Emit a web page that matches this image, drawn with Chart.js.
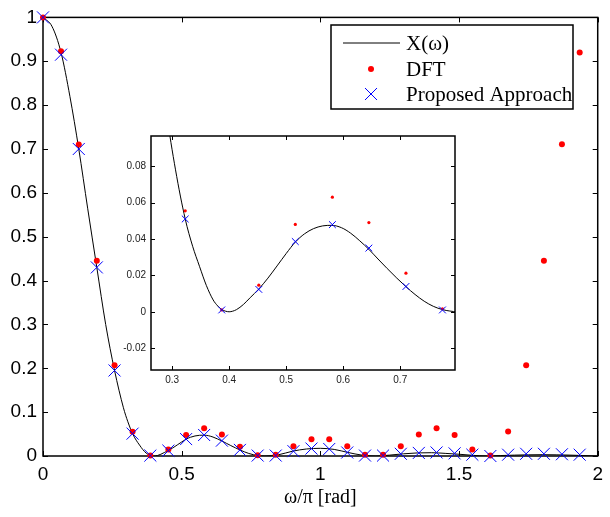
<!DOCTYPE html>
<html>
<head>
<meta charset="utf-8">
<script src="https://cdn.jsdelivr.net/npm/chart.js@4.4.1/dist/chart.umd.min.js"></script>
<style>
  body { margin: 0; background: #fff; }
  #wrap { position: relative; width: 610px; height: 517px; }
  #main { position: absolute; left: 0; top: 0; }
  #inset { position: absolute; left: 100px; top: 125px; }
</style>
</head>
<body>
<div id="wrap">
  <canvas id="main" width="610" height="517"></canvas>
  <canvas id="inset" width="365" height="270"></canvas>
</div>
<script>
// sample frequencies (omega/pi)
const sampleX = [0, 0.065, 0.129, 0.194, 0.258, 0.323, 0.387, 0.452, 0.516, 0.581, 0.645,
  0.710, 0.774, 0.839, 0.903, 0.968, 1.032, 1.097, 1.161, 1.226, 1.290, 1.355, 1.419,
  1.484, 1.548, 1.613, 1.677, 1.742, 1.806, 1.871, 1.935];
const dftY = [1.0, 0.923, 0.71, 0.445, 0.207, 0.0555, 0.001, 0.0146, 0.048, 0.063, 0.049,
  0.0212, 0.0016, 0.003, 0.022, 0.038, 0.038, 0.022, 0.003, 0.003, 0.022, 0.049, 0.063,
  0.048, 0.015, 0.001, 0.056, 0.207, 0.445, 0.711, 0.920];
const proposedY = [1.0, 0.915, 0.70, 0.43, 0.195, 0.051, 0.001, 0.0123, 0.0386, 0.0479, 0.035,
  0.0139, 0.001, 0.001, 0.011, 0.017, 0.016, 0.008, 0.001, 0.001, 0.005, 0.007, 0.008,
  0.006, 0.003, 0.0, 0.003, 0.005, 0.005, 0.004, 0.003];
// continuous spectrum X(omega)
const curveX = [0, 0.032, 0.065, 0.097, 0.129, 0.161, 0.194, 0.226, 0.258, 0.29, 0.306, 0.323,
  0.336, 0.348, 0.36, 0.372, 0.38, 0.387, 0.394, 0.40, 0.406, 0.413, 0.425, 0.437, 0.452,
  0.468, 0.484, 0.50, 0.516, 0.532, 0.548, 0.564, 0.58, 0.597, 0.613, 0.629, 0.645, 0.661,
  0.677, 0.694, 0.71, 0.726, 0.742, 0.758, 0.774, 0.787, 0.80, 0.85, 0.90, 0.95, 1.0, 1.05,
  1.10, 1.15, 1.20, 1.25, 1.30, 1.35, 1.40, 1.45, 1.50, 1.55, 1.60, 1.65, 1.70, 1.80, 1.90, 2.0];
const curveY = [1.0, 0.98, 0.92, 0.82, 0.70, 0.565, 0.43, 0.30, 0.195, 0.11, 0.078, 0.051,
  0.036, 0.025, 0.0145, 0.0065, 0.0032, 0.0012, 0.0003, 0.0, 0.0003, 0.0012, 0.004, 0.0078,
  0.0125, 0.0185, 0.0252, 0.032, 0.0383, 0.0428, 0.0457, 0.0472, 0.0475, 0.0462, 0.0432,
  0.0390, 0.0343, 0.0290, 0.0238, 0.0185, 0.0138, 0.0095, 0.0058, 0.003, 0.0012, 0.0004, 0.0,
  0.003, 0.011, 0.016, 0.0175, 0.015, 0.008, 0.002, 0.0, 0.002, 0.005, 0.007, 0.0075, 0.006,
  0.004, 0.0015, 0.0, 0.001, 0.002, 0.003, 0.002, 0.0];
const seriesNames = ['X(\u03c9)', 'DFT', 'Proposed Approach'];
const mainXTicks = [0, 0.5, 1, 1.5, 2];
const insetXTicks = [0.3, 0.4, 0.5, 0.6, 0.7];
const insetYTicks = [-0.02, 0, 0.02, 0.04, 0.06, 0.08];

const pts = (xs, ys) => xs.map((x, i) => ({ x: x, y: ys[i] }));
const SANS = '"Liberation Sans", Arial, sans-serif';
const SERIF = '"Liberation Serif", "Times New Roman", serif';

// box round the axes, ticks pointing inward on all four sides
const framePlugin = {
  id: 'frame',
  beforeDatasetsDraw(chart, args, opts) {
    const { ctx, chartArea: a, scales } = chart;
    ctx.save();
    if (opts.fill) {
      ctx.fillStyle = '#fff';
      ctx.fillRect(a.left, a.top, a.right - a.left, a.bottom - a.top);
    }
    ctx.strokeStyle = '#000';
    ctx.lineWidth = opts.width;
    ctx.strokeRect(a.left, a.top, a.right - a.left, a.bottom - a.top);
    ctx.lineWidth = 1;
    ctx.beginPath();
    const t = opts.tick;
    scales.x.ticks.forEach(tk => {
      const px = Math.round(scales.x.getPixelForValue(tk.value)) + 0.5;
      ctx.moveTo(px, a.bottom); ctx.lineTo(px, a.bottom - t);
      ctx.moveTo(px, a.top); ctx.lineTo(px, a.top + t);
    });
    scales.y.ticks.forEach(tk => {
      const py = Math.round(scales.y.getPixelForValue(tk.value)) + 0.5;
      ctx.moveTo(a.left, py); ctx.lineTo(a.left + t, py);
      ctx.moveTo(a.right, py); ctx.lineTo(a.right - t, py);
    });
    ctx.stroke();
    ctx.restore();
  }
};

// boxed legend in the upper right
const legendPlugin = {
  id: 'boxLegend',
  afterDraw(chart) {
    const ctx = chart.ctx;
    const L = 331, T = 25, R = 573, B = 109;
    ctx.save();
    ctx.fillStyle = '#fff';
    ctx.fillRect(L, T, R - L, B - T);
    ctx.strokeStyle = '#000';
    ctx.lineWidth = 1.5;
    ctx.strokeRect(L, T, R - L, B - T);
    const rows = [43, 69, 94];
    // line sample
    ctx.lineWidth = 1;
    ctx.beginPath();
    ctx.moveTo(343, rows[0]); ctx.lineTo(400, rows[0]);
    ctx.stroke();
    // dot
    ctx.fillStyle = '#ff0000';
    ctx.beginPath();
    ctx.arc(371, rows[1], 3, 0, Math.PI * 2);
    ctx.fill();
    // cross
    ctx.strokeStyle = '#0000ff';
    ctx.beginPath();
    ctx.moveTo(365, rows[2] - 6); ctx.lineTo(377, rows[2] + 6);
    ctx.moveTo(365, rows[2] + 6); ctx.lineTo(377, rows[2] - 6);
    ctx.stroke();
    ctx.fillStyle = '#000';
    ctx.font = '21px ' + SERIF;
    ctx.textBaseline = 'middle';
    ctx.textAlign = 'left';
    seriesNames.forEach((s, i) => ctx.fillText(s, 406, rows[i] + 1));
    ctx.restore();
  }
};

function datasets(dotR, crossR) {
  return [{
    type: 'line',
    label: seriesNames[0],
    data: pts(curveX, curveY),
    borderColor: '#000',
    borderWidth: 1,
    pointRadius: 0,
    cubicInterpolationMode: 'monotone',
    order: 3
  }, {
    type: 'scatter',
    label: seriesNames[1],
    data: pts(sampleX, dftY),
    pointStyle: 'circle',
    pointRadius: dotR,
    backgroundColor: '#ff0000',
    borderWidth: 0,
    clip: false,
    order: 2
  }, {
    type: 'scatter',
    label: seriesNames[2],
    data: pts(sampleX, proposedY),
    pointStyle: 'crossRot',
    pointRadius: crossR,
    borderColor: '#0000ff',
    borderWidth: 1,
    clip: false,
    order: 1
  }];
}

new Chart(document.getElementById('main'), {
  type: 'scatter',
  data: { datasets: datasets(3, 8.5) },
  options: {
    responsive: false,
    animation: false,
    devicePixelRatio: 1,
    layout: { padding: { top: 13, right: 6, left: 0, bottom: 0 } },
    plugins: {
      legend: { display: false },
      tooltip: { enabled: false },
      frame: { width: 1.5, tick: 5 }
    },
    scales: {
      x: {
        type: 'linear', min: 0, max: 2,
        afterBuildTicks: s => { s.ticks = mainXTicks.map(v => ({ value: v })); },
        afterFit: s => { s.height = 61; },
        grid: { display: false, drawTicks: false },
        border: { display: false },
        ticks: { padding: 7, color: '#000', font: { family: SANS, size: 19 },
          callback: v => String(v) },
        title: { display: true, text: '\u03c9/\u03c0 [rad]', color: '#000',
          font: { family: SERIF, size: 20 }, padding: { top: 0, bottom: 7 } }
      },
      y: {
        type: 'linear', min: 0, max: 1,
        ticks: { stepSize: 0.1, padding: 6, color: '#000', font: { family: SANS, size: 19 },
          callback: v => String(+v.toFixed(1)) },
        afterFit: s => { s.width = 43; },
        grid: { display: false, drawTicks: false },
        border: { display: false }
      }
    }
  },
  plugins: [framePlugin, legendPlugin]
});

new Chart(document.getElementById('inset'), {
  type: 'scatter',
  data: { datasets: datasets(1.6, 4.8) },
  options: {
    responsive: false,
    animation: false,
    devicePixelRatio: 1,
    layout: { padding: { top: 5, right: 10, left: 0, bottom: 0 } },
    plugins: {
      legend: { display: false },
      tooltip: { enabled: false },
      frame: { width: 1.5, tick: 4, fill: true }
    },
    scales: {
      x: {
        type: 'linear', min: 0.263, max: 0.796,
        afterBuildTicks: s => { s.ticks = insetXTicks.map(v => ({ value: v })); },
        afterFit: s => { s.height = 25; },
        grid: { display: false, drawTicks: false },
        border: { display: false },
        ticks: { padding: 4, color: '#222', font: { family: SANS, size: 10 },
          callback: v => v.toFixed(1) }
      },
      y: {
        type: 'linear', min: -0.032, max: 0.0966,
        afterBuildTicks: s => { s.ticks = insetYTicks.map(v => ({ value: v })); },
        afterFit: s => { s.width = 51; },
        grid: { display: false, drawTicks: false },
        border: { display: false },
        ticks: { padding: 5, color: '#222', font: { family: SANS, size: 10 },
          callback: v => (v === 0 ? '0' : v.toFixed(2)) }
      }
    }
  },
  plugins: [framePlugin]
});
</script>
</body>
</html>
